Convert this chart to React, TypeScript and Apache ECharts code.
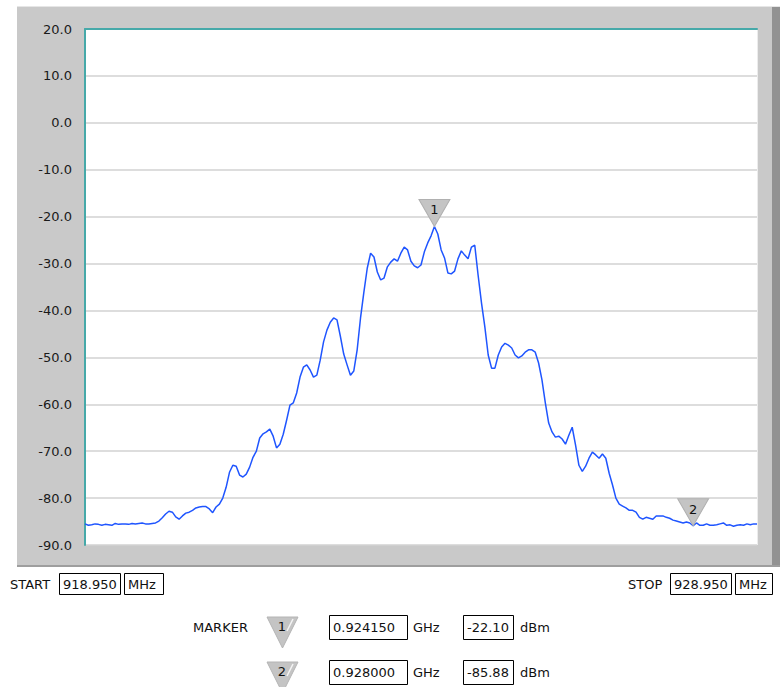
import React, { useEffect, useRef } from "react";
import * as echarts from "echarts";

// Frequency axis (MHz) of the trace samples
const FREQ_MHZ = [
  918.95, 919.0, 919.05, 919.1, 919.15, 919.2, 919.25, 919.3, 919.35, 919.4,
  919.45, 919.5, 919.55, 919.6, 919.65, 919.7, 919.75, 919.8, 919.85, 919.9,
  919.95, 920.0, 920.05, 920.1, 920.15, 920.2, 920.25, 920.3, 920.35, 920.4,
  920.45, 920.5, 920.55, 920.6, 920.65, 920.7, 920.75, 920.8, 920.85, 920.9,
  920.95, 921.0, 921.05, 921.1, 921.15, 921.2, 921.25, 921.3, 921.35, 921.4,
  921.45, 921.5, 921.55, 921.6, 921.65, 921.7, 921.75, 921.8, 921.85, 921.9,
  921.95, 922.0, 922.05, 922.1, 922.15, 922.2, 922.25, 922.3, 922.35, 922.4,
  922.45, 922.5, 922.55, 922.6, 922.65, 922.7, 922.75, 922.8, 922.85, 922.9,
  922.95, 923.0, 923.05, 923.1, 923.15, 923.2, 923.25, 923.3, 923.35, 923.4,
  923.45, 923.5, 923.55, 923.6, 923.65, 923.7, 923.75, 923.8, 923.85, 923.9,
  923.95, 924.0, 924.05, 924.1, 924.15, 924.2, 924.25, 924.3, 924.35, 924.4,
  924.45, 924.5, 924.55, 924.6, 924.65, 924.7, 924.75, 924.8, 924.85, 924.9,
  924.95, 925.0, 925.05, 925.1, 925.15, 925.2, 925.25, 925.3, 925.35, 925.4,
  925.45, 925.5, 925.55, 925.6, 925.65, 925.7, 925.75, 925.8, 925.85, 925.9,
  925.95, 926.0, 926.05, 926.1, 926.15, 926.2, 926.25, 926.3, 926.35, 926.4,
  926.45, 926.5, 926.55, 926.6, 926.65, 926.7, 926.75, 926.8, 926.85, 926.9,
  926.95, 927.0, 927.05, 927.1, 927.15, 927.2, 927.25, 927.3, 927.35, 927.4,
  927.45, 927.5, 927.55, 927.6, 927.65, 927.7, 927.75, 927.8, 927.85, 927.9,
  927.95, 928.0, 928.05, 928.1, 928.15, 928.2, 928.25, 928.3, 928.35, 928.4,
  928.45, 928.5, 928.55, 928.6, 928.65, 928.7, 928.75, 928.8, 928.85, 928.9,
  928.95,
];

// Measured level (dBm) at each frequency
const LEVEL_DBM = [
  -85.5, -85.8, -85.7, -85.5, -85.6, -85.8, -85.6, -85.7, -85.8, -85.4,
  -85.6, -85.5, -85.5, -85.6, -85.4, -85.5, -85.4, -85.3, -85.5, -85.5,
  -85.4, -85.3, -84.9, -84.2, -83.4, -82.8, -83.0, -84.0, -84.5, -83.8,
  -83.2, -83.0, -82.6, -82.1, -81.9, -81.8, -81.8, -82.3, -83.1, -81.9,
  -81.3, -80.0, -77.7, -74.5, -73.0, -73.2, -75.1, -75.5, -74.9, -73.4,
  -71.3, -70.0, -67.2, -66.3, -65.9, -65.3, -66.8, -69.3, -68.5, -66.4,
  -63.4, -60.2, -59.7, -57.6, -54.2, -52.1, -51.6, -52.7, -54.2, -53.8,
  -50.6, -46.7, -44.2, -42.5, -41.6, -42.0, -45.5, -49.3, -51.6, -53.8,
  -52.9, -48.4, -41.6, -36.1, -31.0, -27.8, -28.6, -31.8, -33.5, -33.1,
  -30.7, -29.7, -29.0, -29.5, -27.8, -26.5, -27.1, -29.5, -30.5, -30.9,
  -30.3, -27.5, -25.6, -24.1, -22.1, -23.7, -27.1, -28.8, -32.0, -32.2,
  -31.6, -29.0, -27.3, -28.2, -29.0, -26.5, -26.1, -32.5, -38.4, -43.5,
  -49.5, -52.3, -52.3, -49.5, -47.8, -47.0, -47.4, -48.0, -49.5, -50.1,
  -49.7, -48.9, -48.4, -48.4, -48.9, -51.2, -54.8, -59.7, -64.0, -65.9,
  -67.0, -66.8, -67.4, -68.5, -66.6, -64.9, -68.7, -73.0, -74.3, -73.2,
  -71.5, -70.2, -70.8, -71.5, -70.6, -71.5, -74.7, -77.2, -80.0, -81.3,
  -81.7, -82.1, -82.6, -82.6, -83.0, -84.1, -84.5, -84.1, -84.3, -84.5,
  -83.8, -83.8, -83.8, -84.1, -84.3, -84.7, -84.9, -85.1, -85.3, -85.1,
  -85.3, -85.9, -85.3, -85.8, -85.8, -85.5, -85.8, -85.8, -85.7, -85.5,
  -85.3, -85.8, -85.7, -86.0, -85.8, -85.7, -85.8, -85.5, -85.7, -85.5,
  -85.5,
];

// Axis settings
const START_MHZ = 918.95;
const STOP_MHZ = 928.95;
const Y_MIN = -90;
const Y_MAX = 20;
const Y_STEP = 10;

// Markers
const MARKER_IDS = ["1", "2"];
const MARKER_FREQ_GHZ = [0.92415, 0.928];
const MARKER_LEVEL_DBM = [-22.1, -85.88];

const FONT = "DejaVu Sans";

export default function App() {
  const ref = useRef<HTMLDivElement>(null);

  useEffect(() => {
    document.body.style.margin = "0";
    if (!ref.current) return;
    const chart = echarts.init(ref.current, null, { renderer: "svg" });

    const data = FREQ_MHZ.map((f, i) => [f, LEVEL_DBM[i]]);

    const txt = (x: number, y: number, text: string, align = "left") => ({
      type: "text",
      x,
      y,
      style: {
        text,
        fill: "#111",
        font: `13px ${FONT}`,
        textAlign: align,
        textVerticalAlign: "middle",
      },
    });
    const box = (x: number, y: number, w: number, h: number) => ({
      type: "rect",
      shape: { x, y, width: w, height: h },
      style: { fill: "#fff", stroke: "#000", lineWidth: 1 },
    });

    const markerRows: any[] = [];
    MARKER_IDS.forEach((id, k) => {
      const cy = k === 0 ? 627 : 672;
      const top = cy - 10;
      markerRows.push(
        {
          type: "polygon",
          shape: { points: [[267, top], [298, top], [282.5, top + 31]] },
          style: { fill: "#c4c4c4", stroke: "#b4b4b4", lineWidth: 1 },
        },
        {
          type: "line",
          shape: { x1: 293, y1: top + 2, x2: 287, y2: top + 14 },
          style: { stroke: "#f4f4f4", lineWidth: 1.5 },
        },
        txt(282, top + 9, id, "center"),
        box(329.5, cy - 11.5, 78, 24),
        txt(333, cy + 0.5, MARKER_FREQ_GHZ[k].toFixed(6)),
        txt(413, cy + 0.5, "GHz"),
        box(463.5, cy - 11.5, 50, 24),
        txt(467, cy + 0.5, MARKER_LEVEL_DBM[k].toFixed(2)),
        txt(520, cy + 0.5, "dBm")
      );
    });

    const option: any = {
      animation: false,
      backgroundColor: "#fff",
      grid: {
        left: 85,
        top: 29,
        width: 672,
        height: 516,
        show: true,
        backgroundColor: "#fff",
        borderWidth: 0,
        containLabel: false,
      },
      xAxis: {
        type: "value",
        position: "top",
        min: START_MHZ,
        max: STOP_MHZ,
        axisLine: { show: true, onZero: false, lineStyle: { color: "#46a9a9", width: 2 } },
        axisTick: { show: false },
        axisLabel: { show: false },
        splitLine: { show: false },
      },
      yAxis: {
        type: "value",
        min: Y_MIN,
        max: Y_MAX,
        interval: Y_STEP,
        axisLine: { show: true, onZero: false, lineStyle: { color: "#46a9a9", width: 2 } },
        axisTick: { show: false },
        axisLabel: {
          margin: 13,
          color: "#1a1a1a",
          fontFamily: FONT,
          fontSize: 13,
          formatter: (v: number) => v.toFixed(1),
        },
        splitLine: { show: true, lineStyle: { color: "#d2d2d2", width: 1.5 } },
      },
      series: [
        {
          type: "line",
          data,
          showSymbol: false,
          symbol: "none",
          lineStyle: { color: "#1f55ff", width: 1.5 },
          markPoint: {
            symbol: "path://M0 0L32 0L16 28Z",
            symbolSize: [31, 27],
            symbolOffset: [0, "-50%"],
            itemStyle: { color: "#c4c4c4", borderColor: "#b0b0b0", borderWidth: 1 },
            label: {
              show: true,
              position: "inside",
              offset: [0, -3],
              color: "#111",
              fontFamily: FONT,
              fontSize: 13,
              formatter: (p: any) => p.name,
            },
            data: MARKER_IDS.map((id, k) => ({
              name: id,
              coord: [MARKER_FREQ_GHZ[k] * 1000, MARKER_LEVEL_DBM[k]],
            })),
          },
        },
      ],
      graphic: [
        // instrument panel
        {
          type: "rect",
          z: -10,
          shape: { x: 17, y: 6, width: 763, height: 561 },
          style: { fill: "#c9c9c9" },
        },
        {
          type: "rect",
          z: -9,
          shape: { x: 17, y: 6, width: 763, height: 1 },
          style: { fill: "#e6e6e6" },
        },
        {
          type: "rect",
          z: -9,
          shape: { x: 772, y: 7, width: 8, height: 560 },
          style: { fill: "#929292" },
        },
        {
          type: "rect",
          z: -9,
          shape: { x: 17, y: 565, width: 763, height: 2 },
          style: { fill: "#9e9e9e" },
        },
        {
          type: "line",
          z: 5,
          shape: { x1: 757.5, y1: 30, x2: 757.5, y2: 545 },
          style: { stroke: "#ececec", lineWidth: 1 },
        },
        // start / stop fields
        txt(10, 584.5, "START"),
        box(59.5, 573.5, 61, 21),
        txt(63, 584.5, START_MHZ.toFixed(3)),
        box(124.5, 573.5, 39, 21),
        txt(128, 584.5, "MHz"),
        txt(628, 584.5, "STOP"),
        box(670.5, 573.5, 61, 21),
        txt(674, 584.5, STOP_MHZ.toFixed(3)),
        box(735.5, 573.5, 37, 21),
        txt(739, 584.5, "MHz"),
        // marker table
        txt(193, 627, "MARKER"),
        ...markerRows,
      ],
    };

    chart.setOption(option);
    return () => chart.dispose();
  }, []);

  return (
    <div
      ref={ref}
      style={{ position: "fixed", left: 0, top: 0, width: 780, height: 687 }}
    />
  );
}
